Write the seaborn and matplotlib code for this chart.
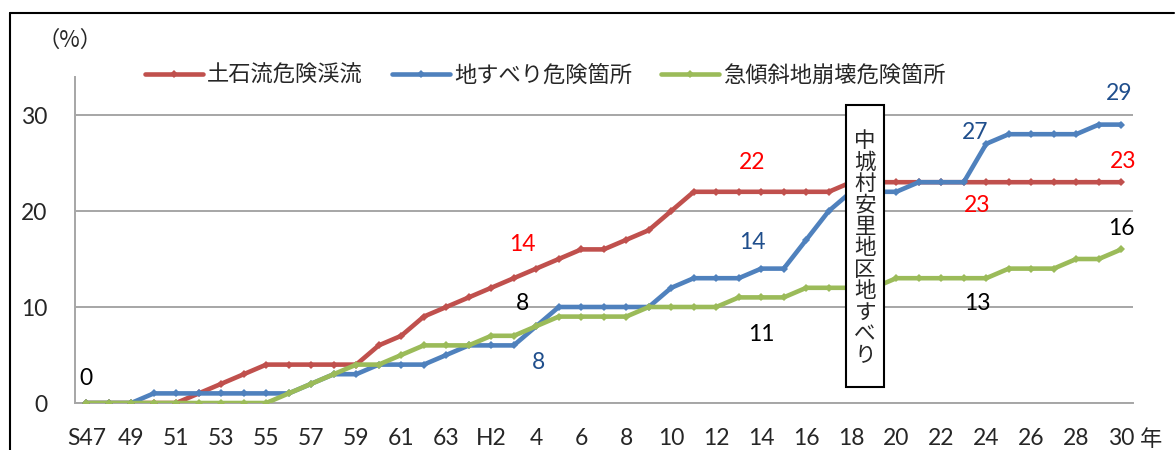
import numpy as np
import pandas as pd
import matplotlib
matplotlib.use("Agg")
import matplotlib.pyplot as plt
from matplotlib.lines import Line2D
from matplotlib.patches import Rectangle
import seaborn as sns

# --- Données (％) ---
YEAR_LABELS = (["S47"] + [str(y) for y in range(48, 64)]
               + ["H1"] + ["H" + str(y) if y == 2 else str(y) for y in range(2, 31)])
DOSEKIRYU = [0, 0, 0, 0, 0, 1, 2, 3, 4, 4, 4, 4, 4, 6, 7, 9, 10,
             11, 12, 13, 14, 15, 16, 16, 17, 18, 20, 22, 22, 22, 22, 22, 22, 22,
             23, 23, 23, 23, 23, 23, 23, 23, 23, 23, 23, 23, 23]
JISUBERI = [0, 0, 0, 1, 1, 1, 1, 1, 1, 1, 2, 3, 3, 4, 4, 4, 5,
            6, 6, 6, 8, 10, 10, 10, 10, 10, 12, 13, 13, 13, 14, 14, 17, 20,
            22, 22, 22, 23, 23, 23, 27, 28, 28, 28, 28, 29, 29]
KYUKEISHA = [0, 0, 0, 0, 0, 0, 0, 0, 0, 1, 2, 3, 4, 4, 5, 6, 6,
             6, 7, 7, 8, 9, 9, 9, 9, 10, 10, 10, 10, 11, 11, 11, 12, 12,
             12, 12, 13, 13, 13, 13, 13, 14, 14, 14, 15, 15, 16]
SERIES = ["土石流危険渓流", "地すべり危険箇所", "急傾斜地崩壊危険箇所"]
COLORS = ["#C0504D", "#4F81BD", "#9BBB59"]

# étiquettes de valeurs : (texte, x, y, couleur)
LABELS = [("0", 0.0, 2.6, "black"),
          ("14", 19.4, 16.5, "#FF0000"), ("8", 19.4, 10.4, "black"),
          ("8", 20.1, 4.2, "#1F4E8C"), ("14", 29.6, 16.7, "#1F4E8C"),
          ("11", 30.0, 7.1, "black"), ("22", 29.6, 25.1, "#FF0000"),
          ("27", 39.5, 28.2, "#1F4E8C"), ("23", 39.6, 20.6, "#FF0000"),
          ("13", 39.6, 10.4, "black"), ("29", 45.9, 32.2, "#1F4E8C"),
          ("23", 46.1, 25.2, "#FF0000"), ("16", 46.0, 18.2, "black")]
EVENT_TEXT = "中城村安里地区地すべり"

sns.set_style("white")
plt.rcParams["font.family"] = ["Lato", "Noto Sans CJK JP", "DejaVu Sans"]

n = len(DOSEKIRYU)
df = pd.DataFrame({
    "idx": np.tile(np.arange(n), 3),
    "value": DOSEKIRYU + JISUBERI + KYUKEISHA,
    "series": np.repeat(SERIES, n),
})

fig = plt.figure(figsize=(11.75, 4.5), dpi=100)
ax = fig.add_axes([75 / 1175, 1 - 403 / 450, 1057.5 / 1175, 326.4 / 450])

sns.lineplot(data=df, x="idx", y="value", hue="series", hue_order=SERIES,
             palette=COLORS, marker="D", markersize=4.5, markeredgewidth=0,
             linewidth=3.3, legend=False, ax=ax, zorder=3)

ax.set_xlim(-0.5, n - 0.5)
ax.set_ylim(0, 34)
ax.set_yticks([0, 10, 20, 30])
ax.grid(axis="y", color="#A6A6A6", linewidth=1.4, zorder=0)
ax.grid(axis="x", visible=False)
for s in ["top", "right"]:
    ax.spines[s].set_visible(False)
for s in ["left", "bottom"]:
    ax.spines[s].set_color("#A6A6A6")
    ax.spines[s].set_linewidth(1.4)

ax.set_xticks(np.arange(0, n, 2))
ax.set_xticklabels([YEAR_LABELS[i] for i in range(0, n, 2)])
ax.set_xticks(np.arange(-0.5, n, 1), minor=True)
ax.tick_params(axis="x", which="major", length=0, pad=18, labelsize=16.5)
ax.tick_params(axis="x", which="minor", length=7, width=1.4, color="#A6A6A6")
ax.tick_params(axis="y", length=0, pad=20, labelsize=16.5)
ax.set_xlabel("")
ax.set_ylabel("")

# 年
fig.text(1151 / 1175, 1 - 439 / 450, "年", fontsize=16,
         family="Noto Sans CJK JP", ha="center", va="center")
fig.text(70 / 1175, 1 - 40 / 450, "（%）", fontsize=16,
         family="Noto Sans CJK JP", ha="center", va="center")

for txt, x, y, c in LABELS:
    ax.text(x, y, txt, color=c, fontsize=16.5, ha="center", va="center", zorder=5)

# encadré vertical
ax.add_patch(Rectangle((33.78, 1.67), 1.69, 29.4, facecolor="white",
                       edgecolor="black", linewidth=1.5, zorder=6))
char_y = np.linspace(27.3, 4.9, len(EVENT_TEXT))
for ch, cy in zip(EVENT_TEXT, char_y):
    ax.text(34.62, cy, ch, fontsize=15.5, family="Noto Sans CJK JP",
            ha="center", va="center", zorder=7)

# légende
handles = [Line2D([0], [0], color=c, linewidth=3.3, marker="D", markersize=4.5,
                  markeredgewidth=0) for c in COLORS]
fig.legend(handles, SERIES, loc="center left",
           bbox_to_anchor=(125 / 1175, 1 - 75 / 450), ncol=3, frameon=False,
           fontsize=16, handlelength=2.6, handletextpad=0.2, columnspacing=1.3)

# cadre extérieur
fig.add_artist(Line2D([10 / 1175, 10 / 1175], [0, 1 - 13 / 450],
                      color="black", linewidth=1.5, transform=fig.transFigure))
fig.add_artist(Line2D([10 / 1175, 1174 / 1175], [1 - 13 / 450, 1 - 13 / 450],
                      color="black", linewidth=1.5, transform=fig.transFigure))

fig.savefig("out.png", dpi=100)
